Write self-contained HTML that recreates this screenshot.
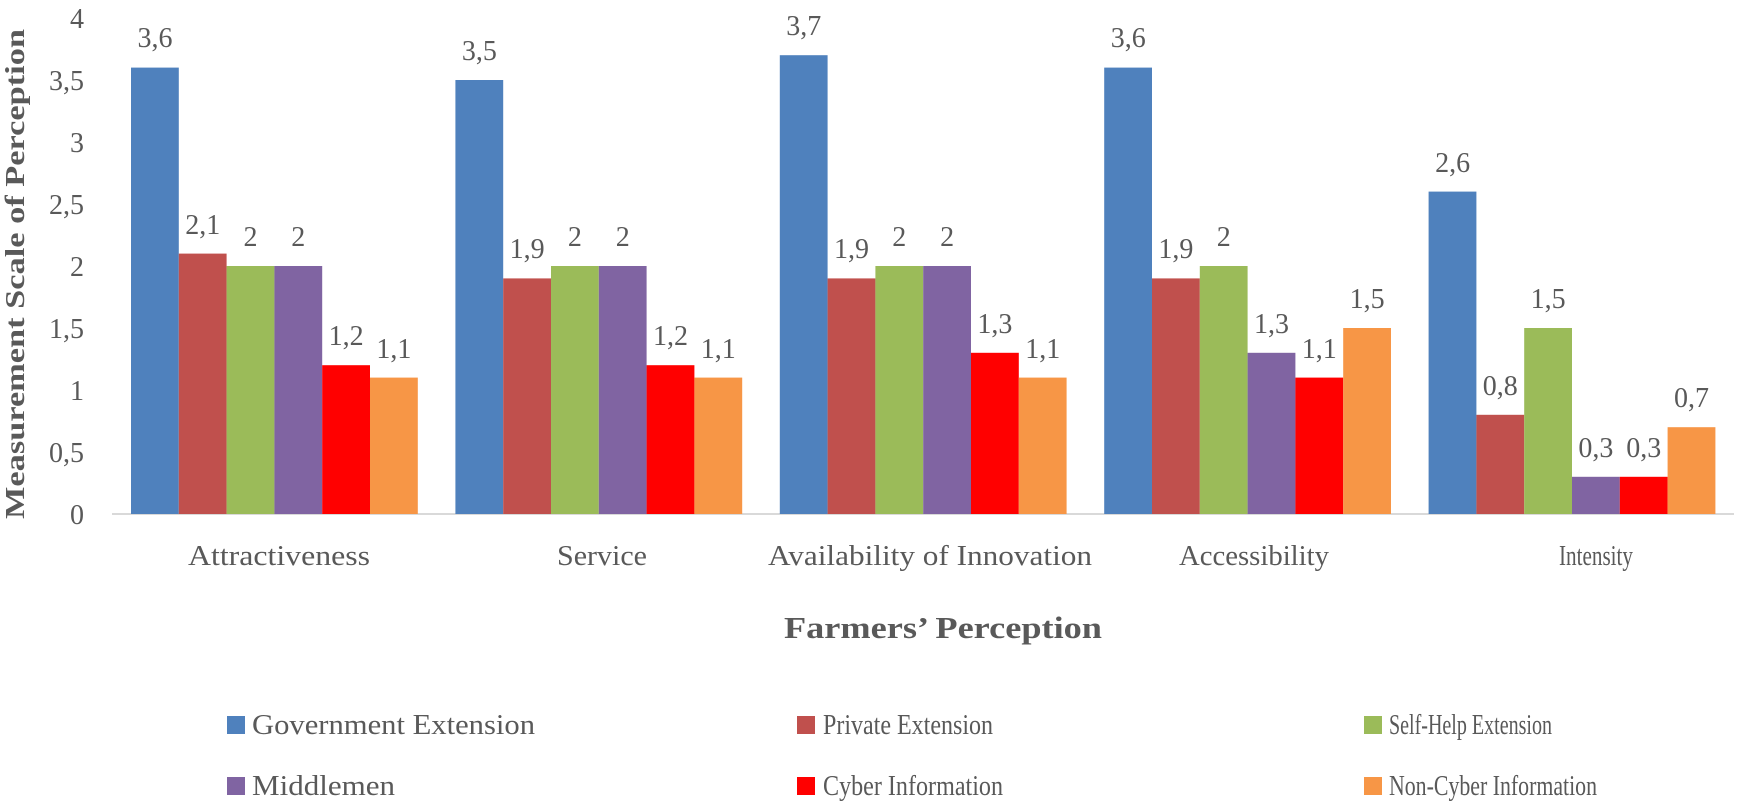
<!DOCTYPE html>
<html><head><meta charset="utf-8"><style>
html,body{margin:0;padding:0;background:#fff;}
svg{display:block;}
text{font-family:"Liberation Serif",serif;fill:#595959;}
</style></head><body>
<svg width="1747" height="802" viewBox="0 0 1747 802">
<line x1="112" y1="514" x2="1734" y2="514" stroke="#d9d9d9" stroke-width="2"/>
<g font-size="28" text-anchor="end">
<text x="84" y="524">0</text>
<text x="84" y="462">0,5</text>
<text x="84" y="400">1</text>
<text x="84" y="338">1,5</text>
<text x="84" y="276">2</text>
<text x="84" y="214">2,5</text>
<text x="84" y="152">3</text>
<text x="84" y="90">3,5</text>
<text x="84" y="28">4</text>
</g>
<text transform="translate(24,274) rotate(-90)" font-size="27" font-weight="bold" text-anchor="middle" textLength="490" lengthAdjust="spacingAndGlyphs">Measurement Scale of Perception</text>

<g font-size="28" text-anchor="middle">
<g>
<rect x="131" y="67.6" width="47.8" height="446.4" fill="#4f81bd"/>
<rect x="178.8" y="253.6" width="47.8" height="260.4" fill="#c0504d"/>
<rect x="226.6" y="266" width="47.8" height="248" fill="#9bbb59"/>
<rect x="274.4" y="266" width="47.8" height="248" fill="#8064a2"/>
<rect x="322.2" y="365.2" width="47.8" height="148.8" fill="#ff0000"/>
<rect x="370" y="377.6" width="47.8" height="136.4" fill="#f79646"/>
<text x="155" y="47">3,6</text><text x="202.7" y="234">2,1</text><text x="250.5" y="246">2</text><text x="298.3" y="246">2</text><text x="346.1" y="345">1,2</text><text x="393.9" y="358">1,1</text>
</g>
<g transform="translate(324.4,0)">
<rect x="131" y="80" width="47.8" height="434" fill="#4f81bd"/>
<rect x="178.8" y="278.4" width="47.8" height="235.6" fill="#c0504d"/>
<rect x="226.6" y="266" width="47.8" height="248" fill="#9bbb59"/>
<rect x="274.4" y="266" width="47.8" height="248" fill="#8064a2"/>
<rect x="322.2" y="365.2" width="47.8" height="148.8" fill="#ff0000"/>
<rect x="370" y="377.6" width="47.8" height="136.4" fill="#f79646"/>
<text x="155" y="60">3,5</text><text x="202.7" y="258">1,9</text><text x="250.5" y="246">2</text><text x="298.3" y="246">2</text><text x="346.1" y="345">1,2</text><text x="393.9" y="358">1,1</text>
</g>
<g transform="translate(648.8,0)">
<rect x="131" y="55.2" width="47.8" height="458.8" fill="#4f81bd"/>
<rect x="178.8" y="278.4" width="47.8" height="235.6" fill="#c0504d"/>
<rect x="226.6" y="266" width="47.8" height="248" fill="#9bbb59"/>
<rect x="274.4" y="266" width="47.8" height="248" fill="#8064a2"/>
<rect x="322.2" y="352.8" width="47.8" height="161.2" fill="#ff0000"/>
<rect x="370" y="377.6" width="47.8" height="136.4" fill="#f79646"/>
<text x="155" y="35">3,7</text><text x="202.7" y="258">1,9</text><text x="250.5" y="246">2</text><text x="298.3" y="246">2</text><text x="346.1" y="333">1,3</text><text x="393.9" y="358">1,1</text>
</g>
<g transform="translate(973.2,0)">
<rect x="131" y="67.6" width="47.8" height="446.4" fill="#4f81bd"/>
<rect x="178.8" y="278.4" width="47.8" height="235.6" fill="#c0504d"/>
<rect x="226.6" y="266" width="47.8" height="248" fill="#9bbb59"/>
<rect x="274.4" y="352.8" width="47.8" height="161.2" fill="#8064a2"/>
<rect x="322.2" y="377.6" width="47.8" height="136.4" fill="#ff0000"/>
<rect x="370" y="328" width="47.8" height="186" fill="#f79646"/>
<text x="155" y="47">3,6</text><text x="202.7" y="258">1,9</text><text x="250.5" y="246">2</text><text x="298.3" y="333">1,3</text><text x="346.1" y="358">1,1</text><text x="393.9" y="308">1,5</text>
</g>
<g transform="translate(1297.6,0)">
<rect x="131" y="191.6" width="47.8" height="322.4" fill="#4f81bd"/>
<rect x="178.8" y="414.8" width="47.8" height="99.2" fill="#c0504d"/>
<rect x="226.6" y="328" width="47.8" height="186" fill="#9bbb59"/>
<rect x="274.4" y="476.8" width="47.8" height="37.2" fill="#8064a2"/>
<rect x="322.2" y="476.8" width="47.8" height="37.2" fill="#ff0000"/>
<rect x="370" y="427.2" width="47.8" height="86.8" fill="#f79646"/>
<text x="155" y="172">2,6</text><text x="202.7" y="395">0,8</text><text x="250.5" y="308">1,5</text><text x="298.3" y="457">0,3</text><text x="346.1" y="457">0,3</text><text x="393.9" y="407">0,7</text>
</g>
</g>

<g font-size="28" text-anchor="middle">
<text x="279" y="565" textLength="182" lengthAdjust="spacingAndGlyphs">Attractiveness</text>
<text x="602" y="565" textLength="90" lengthAdjust="spacingAndGlyphs">Service</text>
<text x="930" y="565" textLength="324" lengthAdjust="spacingAndGlyphs">Availability of Innovation</text>
<text x="1254" y="565" textLength="150" lengthAdjust="spacingAndGlyphs">Accessibility</text>
<text x="1596" y="565" textLength="74" lengthAdjust="spacingAndGlyphs">Intensity</text>
</g>
<text x="943" y="638" font-size="31" font-weight="bold" text-anchor="middle" textLength="318" lengthAdjust="spacingAndGlyphs">Farmers’ Perception</text>

<g font-size="28">
<rect x="227" y="716" width="18" height="18" fill="#4f81bd"/><text x="252" y="734" textLength="283" lengthAdjust="spacingAndGlyphs">Government Extension</text>
<rect x="797" y="716" width="18" height="18" fill="#c0504d"/><text x="823" y="734" textLength="170" lengthAdjust="spacingAndGlyphs">Private Extension</text>
<rect x="1364" y="716" width="18" height="18" fill="#9bbb59"/><text x="1389" y="734" textLength="163" lengthAdjust="spacingAndGlyphs">Self-Help Extension</text>
<rect x="227" y="777" width="18" height="18" fill="#8064a2"/><text x="252" y="795" textLength="143" lengthAdjust="spacingAndGlyphs">Middlemen</text>
<rect x="797" y="777" width="18" height="18" fill="#ff0000"/><text x="823" y="795" textLength="180" lengthAdjust="spacingAndGlyphs">Cyber Information</text>
<rect x="1364" y="777" width="18" height="18" fill="#f79646"/><text x="1389" y="795" textLength="208" lengthAdjust="spacingAndGlyphs">Non-Cyber Information</text>
</g>
</svg>
</body></html>
